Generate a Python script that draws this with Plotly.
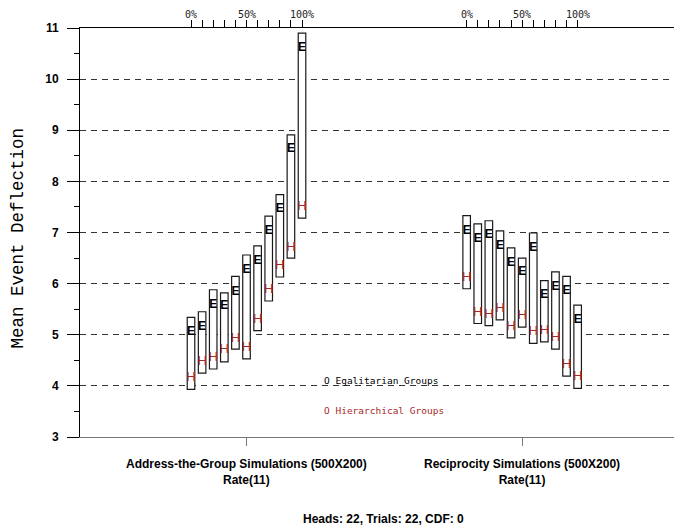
import plotly.graph_objects as go

# ---- data ----
rates = [0, 10, 20, 30, 40, 50, 60, 70, 80, 90, 100]
groups = ["Address-the-Group Simulations (500X200)", "Reciprocity Simulations (500X200)"]
group_sub = ["Rate(11)", "Rate(11)"]

atg_low  = [3.93, 4.25, 4.33, 4.47, 4.72, 4.53, 5.08, 5.66, 6.13, 6.50, 7.28]
atg_high = [5.34, 5.45, 5.88, 5.82, 6.14, 6.56, 6.74, 7.32, 7.74, 8.91, 10.90]
atg_E    = [5.05, 5.16, 5.58, 5.56, 5.84, 6.27, 6.45, 7.03, 7.46, 8.63, 10.61]
atg_H    = [4.15, 4.47, 4.56, 4.70, 4.93, 4.75, 5.29, 5.88, 6.35, 6.71, 7.51]

rec_low  = [5.90, 5.22, 5.18, 5.29, 4.94, 5.15, 4.83, 4.86, 4.72, 4.19, 3.95]
rec_high = [7.33, 7.17, 7.23, 7.03, 6.70, 6.50, 6.99, 6.06, 6.23, 6.14, 5.58]
rec_E    = [7.03, 6.87, 6.95, 6.74, 6.41, 6.22, 6.69, 5.78, 5.94, 5.86, 5.29]
rec_H    = [6.12, 5.44, 5.40, 5.50, 5.16, 5.37, 5.05, 5.08, 4.94, 4.41, 4.17]

y_ticks = [3, 4, 5, 6, 7, 8, 9, 10, 11]
y_title = "Mean Event Deflection"
top_tick_text = {0: "0%", 50: "50%", 100: "100%"}
legend_labels = ["O Egalitarian Groups", "O Hierarchical Groups"]
footer = "Heads: 22, Trials: 22, CDF: 0"

# ---- layout constants ----
GROUP_OFFSET = [0, 248.3]
BAR_W = 6.8
E_COLOR = "black"
H_COLOR = "#a82828"
MONO = "DejaVu Sans Mono"
SANS = "Liberation Sans"

fig = go.Figure()

series = [(atg_low, atg_high, atg_E, atg_H), (rec_low, rec_high, rec_E, rec_H)]
all_x = []
for gi, (lo, hi, e, h) in enumerate(series):
    xs = [GROUP_OFFSET[gi] + r for r in rates]
    all_x += xs
    fig.add_trace(go.Bar(
        x=xs, y=[b - a for a, b in zip(lo, hi)], base=lo, width=BAR_W,
        marker=dict(color="white", line=dict(color="#1a1a1a", width=1.2)),
        showlegend=False, hoverinfo="skip"))
    fig.add_trace(go.Scatter(
        x=xs, y=e, mode="text", text=["E"] * len(xs),
        textfont=dict(family=SANS, size=12, color=E_COLOR, weight="bold"),
        showlegend=False, hoverinfo="skip"))
    fig.add_trace(go.Scatter(
        x=xs, y=h, mode="text", text=["H"] * len(xs),
        textfont=dict(family=SANS, size=13, color=H_COLOR),
        showlegend=False, hoverinfo="skip"))

# dummy trace for top axis
fig.add_trace(go.Scatter(x=all_x, y=[3] * len(all_x), xaxis="x2", mode="markers",
                         marker=dict(opacity=0), showlegend=False, hoverinfo="skip"))

xr = [-100, 441.4]
centers = [GROUP_OFFSET[i] + 50 for i in range(2)]

fig.update_layout(
    width=674, height=518,
    margin=dict(l=72, r=1, t=20, b=89, autoexpand=False),
    plot_bgcolor="white", paper_bgcolor="white",
    barmode="overlay",
    showlegend=False,
    xaxis=dict(range=xr, showgrid=False, zeroline=False, showline=True,
               linecolor="#777", linewidth=1, ticks="outside", ticklen=8,
               tickcolor="#777", tickvals=centers, showticklabels=False,
               automargin=False),
    xaxis2=dict(range=xr, overlaying="x", side="top", anchor="y",
                showgrid=False, zeroline=False, showline=True, linecolor="black",
                linewidth=1, ticks="outside", ticklen=7, tickcolor="black",
                tickvals=all_x, showticklabels=False, automargin=False),
    yaxis=dict(range=[3, 11], tickvals=y_ticks, showline=True, linecolor="black",
               linewidth=1, ticks="outside", ticklen=12, tickcolor="black",
               ticklabelstandoff=6, automargin=False,
               tickfont=dict(family=SANS, size=12, color="black", weight="bold"),
               minor=dict(dtick=0.5, ticks="outside", ticklen=5, tickcolor="black",
                          showgrid=False),
               showgrid=True, gridcolor="#333", gridwidth=1, griddash="6px,5px",
               zeroline=False),
)

# y-axis title
fig.add_annotation(x=-0.104, xref="paper", y=0.4866, yref="paper", text=y_title,
                   textangle=-90, showarrow=False, xanchor="center", yanchor="middle",
                   font=dict(family="Liberation Mono", size=17.5, color="black"))

# top percentage labels
for gi in range(2):
    for r in rates:
        if r in top_tick_text:
            fig.add_annotation(x=GROUP_OFFSET[gi] + r, xref="x", y=1.032, yref="paper",
                               text=top_tick_text[r], showarrow=False,
                               yanchor="middle", xanchor="center",
                               font=dict(family=MONO, size=10, color="#222"))

for gi in range(2):
    fig.add_annotation(x=centers[gi], xref="x", y=-0.0856, yref="paper",
                       text=f"<b>{groups[gi]}</b><br><b>{group_sub[gi]}</b>",
                       showarrow=False, yanchor="middle",
                       font=dict(family=SANS, size=12, color="black"))

fig.add_annotation(x=118, xref="x", y=4.10, yref="y", text=legend_labels[0],
                   showarrow=False, xanchor="left", yanchor="middle",
                   font=dict(family=MONO, size=9.5, color="black"))
fig.add_annotation(x=118, xref="x", y=3.51, yref="y", text=legend_labels[1],
                   showarrow=False, xanchor="left", yanchor="middle",
                   font=dict(family=MONO, size=9.5, color=H_COLOR))

fig.add_annotation(x=0.505, xref="paper", y=-0.2005, yref="paper", text=f"<b>{footer}</b>",
                   showarrow=False, yanchor="middle",
                   font=dict(family=SANS, size=12, color="black"))

fig.write_html("out.html")
